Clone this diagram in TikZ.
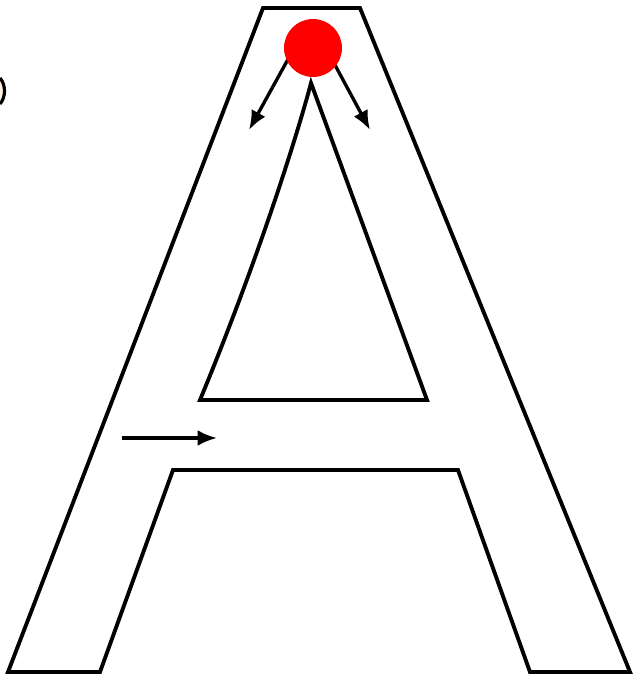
\documentclass[tikz,border=0pt]{standalone}
\usepackage{tikz}
\usetikzlibrary{arrows.meta}

\begin{document}
\begin{tikzpicture}[
    x=0.02cm, y=-0.02cm,
    outline/.style={draw=black, line width=2.2pt},
    move/.style={-{Latex[length=11pt, width=9pt]}, line width=1.9pt},
    startdot/.style={circle, fill=red, inner sep=0pt, minimum size=1.16cm}
]

% Picture frame
\useasboundingbox (0,0) rectangle (632,682);

% Fragment cut off at the left border
\draw[line width=1.8pt, fill=orange!12] (0,78) .. controls (6,85) and (6,97) .. (0,104);

% Letter A, outer contour
\draw[outline] (263,8) -- (360,8) -- (630,672) -- (530,672) -- (458,470)
    -- (173,470) -- (100,672) -- (8,672) -- cycle;

% Letter A, inner triangle
\draw[outline] (311,83) .. controls (300,125) and (262,250) .. (200,400)
    -- (427,400) -- cycle;

% Stroke directions
\coordinate (lstart) at (292,52);
\coordinate (ltip) at (249,130);
\coordinate (rstart) at (328,52);
\coordinate (rtip) at (370,130);
\coordinate (bstart) at (122,438);
\coordinate (btip) at (217,438);

\draw[move] (lstart) -- (ltip);
\draw[move] (rstart) -- (rtip);
\draw[move] (bstart) -- (btip);

% Starting point
\node[startdot] (dot) at (313,48) {};

\end{tikzpicture}
\end{document}
